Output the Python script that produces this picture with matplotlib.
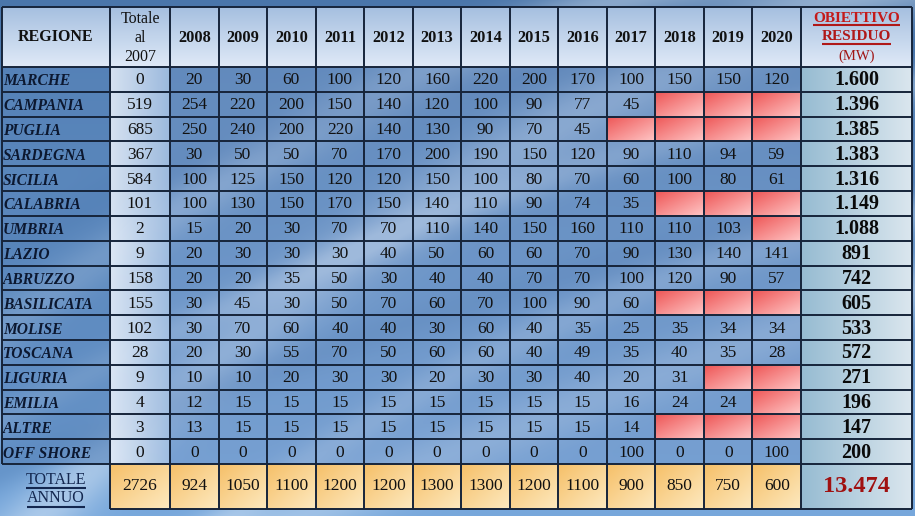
import numpy as np
import matplotlib
matplotlib.use("Agg")
import matplotlib.pyplot as plt
from matplotlib.patches import Rectangle

# ---------------- data ----------------
regioni = ["MARCHE", "CAMPANIA", "PUGLIA", "SARDEGNA", "SICILIA", "CALABRIA",
           "UMBRIA", "LAZIO", "ABRUZZO", "BASILICATA", "MOLISE", "TOSCANA",
           "LIGURIA", "EMILIA", "ALTRE", "OFF SHORE"]
anni = ["2008", "2009", "2010", "2011", "2012", "2013", "2014", "2015",
        "2016", "2017", "2018", "2019", "2020"]
totale_2007 = [0, 519, 685, 367, 584, 101, 2, 9, 158, 155, 102, 28, 9, 4, 3, 0]
N = np.nan
valori = [
    [20, 30, 60, 100, 120, 160, 220, 200, 170, 100, 150, 150, 120],
    [254, 220, 200, 150, 140, 120, 100, 90, 77, 45, N, N, N],
    [250, 240, 200, 220, 140, 130, 90, 70, 45, N, N, N, N],
    [30, 50, 50, 70, 170, 200, 190, 150, 120, 90, 110, 94, 59],
    [100, 125, 150, 120, 120, 150, 100, 80, 70, 60, 100, 80, 61],
    [100, 130, 150, 170, 150, 140, 110, 90, 74, 35, N, N, N],
    [15, 20, 30, 70, 70, 110, 140, 150, 160, 110, 110, 103, N],
    [20, 30, 30, 30, 40, 50, 60, 60, 70, 90, 130, 140, 141],
    [20, 20, 35, 50, 30, 40, 40, 70, 70, 100, 120, 90, 57],
    [30, 45, 30, 50, 70, 60, 70, 100, 90, 60, N, N, N],
    [30, 70, 60, 40, 40, 30, 60, 40, 35, 25, 35, 34, 34],
    [20, 30, 55, 70, 50, 60, 60, 40, 49, 35, 40, 35, 28],
    [10, 10, 20, 30, 30, 20, 30, 30, 40, 20, 31, N, N],
    [12, 15, 15, 15, 15, 15, 15, 15, 15, 16, 24, 24, N],
    [13, 15, 15, 15, 15, 15, 15, 15, 15, 14, N, N, N],
    [0, 0, 0, 0, 0, 0, 0, 0, 0, 100, 0, 0, 100],
]
obiettivo = ["1.600", "1.396", "1.385", "1.383", "1.316", "1.149", "1.088",
             "891", "742", "605", "533", "572", "271", "196", "147", "200"]
totale_annuo_2007 = 2726
totale_annuo = [924, 1050, 1100, 1200, 1200, 1300, 1300, 1200, 1100, 900, 850, 750, 600]
obiettivo_totale = "13.474"

# ---------------- layout ----------------
W, H = 915, 516
fig = plt.figure(figsize=(W / 100, H / 100), dpi=100)
ax = fig.add_axes([0, 0, 1, 1])
ax.set_xlim(0, W)
ax.set_ylim(H, 0)
ax.axis("off")

SERIF = "Liberation Serif"

def hexrgb(h):
    h = h.lstrip("#")
    return np.array([int(h[i:i + 2], 16) / 255 for i in (0, 2, 4)])

# background: gradient with light swooshes
Y, X = np.mgrid[0:H, 0:W].astype(float)
top, bot = hexrgb("#4a76aa"), hexrgb("#78a8dc")
t = (Y / H)[..., None]
bg = top * (1 - t) + bot * t
def band(cy, w, amp):
    d = Y - cy
    return amp * np.exp(-(d / w) ** 2)
light = np.zeros_like(X)
light += band(516 - 0.95 * (X - 40) + 0.00038 * (X - 40) ** 2, 40, 0.45)
light += band(330 - 0.75 * X + 0.00035 * X ** 2, 28, 0.40)
light += band(560 - 0.45 * (X - 200) + 0.0001 * (X - 200) ** 2, 30, 0.35)
light += band(420 - 0.55 * X + 0.0002 * X ** 2, 18, 0.30)
light += band(700 - 0.9 * X + 0.0004 * X ** 2, 22, 0.30)
light = np.clip(light, 0, 0.7)[..., None]
bg = bg * (1 - light) + np.array([0.90, 0.94, 0.98]) * light
dark = np.zeros_like(X)
dark += band(250 - 0.5 * X + 0.0003 * X ** 2, 25, 0.25)
dark += band(470 - 0.4 * X + 0.0001 * X ** 2, 20, 0.22)
dark = np.clip(dark, 0, 0.4)[..., None]
bg = bg * (1 - dark) + hexrgb("#33609a") * dark
ax.imshow(bg, extent=(0, W, H, 0), zorder=0, aspect="auto", interpolation="bilinear")

# grid geometry (pixels)
x_left, x_reg, x_tot = 2, 110, 170
x_obj, x_right = 801, 912
col_w = (x_obj - x_tot) / len(anni)
col_edges = [x_left, x_reg, x_tot] + [x_tot + col_w * (i + 1) for i in range(len(anni))] + [x_right]
y_head0, y_head1 = 7, 67
row_h = (464 - y_head1) / len(regioni)
row_edges = [y_head0] + [y_head1 + row_h * i for i in range(len(regioni) + 1)]
y_tot0, y_tot1 = row_edges[-1], 509

def grad_cell(x0, x1, y0, y1, c0, c1, direction="v", alpha=1.0, z=2):
    c0, c1 = hexrgb(c0), hexrgb(c1)
    n = 32
    s = np.linspace(0, 1, n)
    if direction == "v":
        arr = (c0[None, :] * (1 - s[:, None]) + c1[None, :] * s[:, None])[:, None, :]
    elif direction == "h":
        arr = (c0[None, :] * (1 - s[:, None]) + c1[None, :] * s[:, None])[None, :, :]
    else:  # diagonal
        S = (s[:, None] + s[None, :]) / 2
        arr = c0 * (1 - S[..., None]) + c1 * S[..., None]
    ax.imshow(arr, extent=(x0, x1, y1, y0), aspect="auto", zorder=z, alpha=alpha,
              interpolation="bilinear")

ncols = len(col_edges) - 1
# header cells
for j in range(ncols):
    grad_cell(col_edges[j], col_edges[j + 1], y_head0, y_head1, "#a6c0e0", "#dfe9f7")

# data cells
for i in range(len(regioni)):
    y0, y1 = row_edges[i + 1], row_edges[i + 2]
    ax.add_patch(Rectangle((x_left, y0), x_reg - x_left, y1 - y0, facecolor="#5a86bc",
                           alpha=0.6, zorder=2, linewidth=0))
    grad_cell(x_reg, x_tot, y0, y1, "#e2ebf7", "#a4c0e2", "h", alpha=0.92)
    for j in range(len(anni)):
        xa, xb = col_edges[2 + j], col_edges[3 + j]
        v = valori[i][j]
        if np.isnan(v):
            grad_cell(xa, xb, y0, y1, "#ee5656", "#ffc6c6", "d", alpha=1.0)
        else:
            ax.add_patch(Rectangle((xa, y0), xb - xa, y1 - y0, facecolor="#7a9ccc",
                                   alpha=0.45, zorder=2, linewidth=0))
    grad_cell(x_obj, x_right, y0, y1, "#97bcd2", "#dae6ee", "h", alpha=1.0)

# total row
for j in range(1, ncols - 1):
    grad_cell(col_edges[j], col_edges[j + 1], y_tot0, y_tot1, "#f6c069", "#fde9bf", "d")
grad_cell(x_obj, x_right, y_tot0, y_tot1, "#97bcd2", "#dae6ee", "h")

# grid lines
lc, lw = "#16243a", 1.4
for xe in col_edges:
    ax.vlines(xe, y_head0, y_tot0, color=lc, lw=lw, zorder=4)
for xe in col_edges[1:]:
    ax.vlines(xe, y_tot0, y_tot1, color=lc, lw=lw, zorder=4)
for ye in row_edges:
    ax.hlines(ye, x_left, x_right, color=lc, lw=lw, zorder=4)
ax.hlines(y_tot1, x_reg, x_right, color=lc, lw=lw, zorder=4)

def cx(j):
    return (col_edges[j] + col_edges[j + 1]) / 2

txt = "#111111"
NUM = 12.5
# headers
ax.text(cx(0), (y_head0 + y_head1) / 2, "REGIONE", fontsize=11.5, fontweight="bold",
        family=SERIF, ha="center", va="center", color=txt, zorder=5)
ax.text(cx(1), (y_head0 + y_head1) / 2 + 1, "Totale\nal\n2007", fontsize=11.5,
        family=SERIF, ha="center", va="center", color=txt, zorder=5, linespacing=1.22)
for j, a in enumerate(anni):
    ax.text(cx(2 + j), (y_head0 + y_head1) / 2 + 1, a, fontsize=11.8, fontweight="bold",
            family=SERIF, ha="center", va="center", color=txt, zorder=5)

underlines = []
hd_obj = ax.text(cx(ncols - 1), 18, "OBIETTIVO", fontsize=11, fontweight="bold",
                 family=SERIF, ha="center", va="center", color="#c41a1a", zorder=5)
hd_res = ax.text(cx(ncols - 1), 37, "RESIDUO", fontsize=11, fontweight="bold",
                 family=SERIF, ha="center", va="center", color="#b01818", zorder=5)
underlines += [(hd_obj, "#b01818"), (hd_res, "#b01818")]
ax.text(cx(ncols - 1), 56, "(MW)", fontsize=10.5, family=SERIF, ha="center",
        va="center", color="#a01515", zorder=5)

# body text
for i, r in enumerate(regioni):
    ym = (row_edges[i + 1] + row_edges[i + 2]) / 2 + 1
    ax.text(x_left + 1, ym + 1, r, fontsize=11.2, fontweight="bold", style="italic",
            family=SERIF, ha="left", va="center", color="#0c1830", zorder=5)
    ax.text(cx(1), ym, str(totale_2007[i]), fontsize=NUM, family=SERIF,
            ha="center", va="center", color=txt, zorder=5)
    for j in range(len(anni)):
        v = valori[i][j]
        if not np.isnan(v):
            ax.text(cx(2 + j), ym, f"{int(v)}", fontsize=NUM, family=SERIF,
                    ha="center", va="center", color=txt, zorder=5)
    ax.text(cx(ncols - 1), ym, obiettivo[i], fontsize=14.5, fontweight="bold",
            family=SERIF, ha="center", va="center", color="#0a0a0a", zorder=5)

# total row text
ym = (y_tot0 + y_tot1) / 2
t1 = ax.text(cx(0), ym - 7, "TOTALE", fontsize=11.5, family=SERIF, ha="center",
             va="center", color="#142850", zorder=5)
t2 = ax.text(cx(0), ym + 12, "ANNUO", fontsize=11.5, family=SERIF, ha="center",
             va="center", color="#142850", zorder=5)
underlines += [(t1, "#142850"), (t2, "#142850")]
ax.text(cx(1), ym, str(totale_annuo_2007), fontsize=NUM, family=SERIF,
        ha="center", va="center", color=txt, zorder=5)
for j, v in enumerate(totale_annuo):
    ax.text(cx(2 + j), ym, str(v), fontsize=NUM, family=SERIF, ha="center",
            va="center", color=txt, zorder=5)
ax.text(cx(ncols - 1), ym, obiettivo_totale, fontsize=17.5, fontweight="bold",
        family=SERIF, ha="center", va="center", color="#a01010", zorder=5)

# underlines computed from rendered text extents
fig.canvas.draw()
renderer = fig.canvas.get_renderer()
inv = ax.transData.inverted()
for tt, col in underlines:
    bb = tt.get_window_extent(renderer)
    (xa, ya), (xb, yb) = inv.transform([(bb.x0, bb.y0), (bb.x1, bb.y1)])
    ax.plot([xa, xb], [ya + 0.5, ya + 0.5], color=col, lw=1.5, zorder=5,
            solid_capstyle="butt")

fig.savefig("out.png", dpi=100)
